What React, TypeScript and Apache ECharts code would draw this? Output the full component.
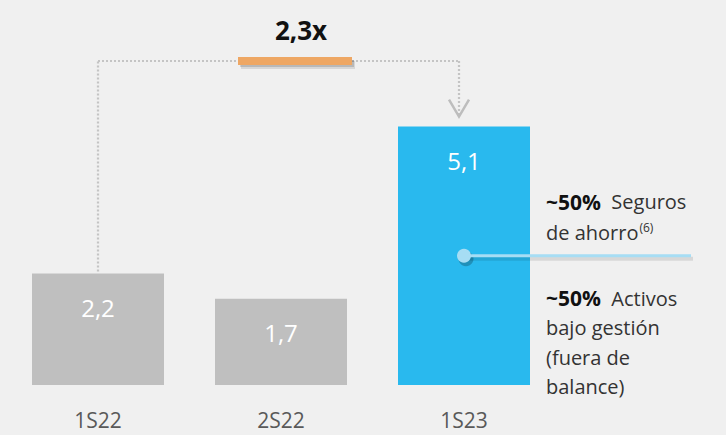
import React, { useEffect, useRef } from "react";
import * as echarts from "echarts";

const categories = ["1S22", "2S22", "1S23"];
const values = [2.2, 1.7, 5.1];
const valueLabels = ["2,2", "1,7", "5,1"];
const barColors = ["#bfbfbf", "#bfbfbf", "#29b9ee"];
const growthLabel = "2,3x";
const shareSavings = "~50%";
const shareAssets = "~50%";

const FONT = "'Open Sans', 'Noto Sans', sans-serif";

export default function App() {
  const ref = useRef<HTMLDivElement>(null);
  useEffect(() => {
    document.body.style.margin = "0";
    const chart = echarts.init(ref.current!, null, { renderer: "svg" });
    chart.setOption({
      animation: false,
      backgroundColor: "#f0f0f0",
      textStyle: { fontFamily: FONT },
      grid: { left: 6.5, right: 170.5, top: 81, bottom: 50 },
      xAxis: {
        type: "category",
        data: categories,
        axisLine: { show: false },
        axisTick: { show: false },
        axisLabel: { color: "#595959", fontSize: 21, margin: 24, fontFamily: FONT },
      },
      yAxis: { type: "value", min: 0, max: 6, show: false, splitLine: { show: false } },
      series: [
        {
          type: "bar",
          barWidth: 132,
          data: values.map((v, i) => ({ value: v, itemStyle: { color: barColors[i] } })),
          label: {
            show: true,
            position: "insideTop",
            distance: 22,
            color: "#ffffff",
            fontSize: 24,
            fontFamily: FONT,
            formatter: (p: any) => valueLabels[p.dataIndex],
          },
        },
      ],
    });

    const p1 = chart.convertToPixel({ seriesIndex: 0 }, [0, values[0]]) as number[];
    const p3 = chart.convertToPixel({ seriesIndex: 0 }, [2, values[2]]) as number[];
    const pm = chart.convertToPixel({ seriesIndex: 0 }, [2, values[2] / 2]) as number[];
    const lineY = 61;
    const dotted = { stroke: "#c4c4c4", lineWidth: 2.2, lineDash: [2, 2] };

    chart.setOption({
      graphic: [
        { type: "line", z: 10, shape: { x1: p1[0], y1: p1[1] - 2, x2: p1[0], y2: lineY }, style: dotted },
        { type: "line", z: 10, shape: { x1: p1[0], y1: lineY, x2: 238, y2: lineY }, style: dotted },
        { type: "line", z: 10, shape: { x1: 352, y1: lineY, x2: p3[0] - 5, y2: lineY }, style: dotted },
        { type: "line", z: 10, shape: { x1: p3[0] - 5, y1: lineY, x2: p3[0] - 5, y2: p3[1] - 12 }, style: dotted },
        {
          type: "polyline",
          z: 10,
          shape: { points: [[p3[0] - 15, p3[1] - 27], [p3[0] - 5, p3[1] - 10], [p3[0] + 5, p3[1] - 27]] },
          style: { stroke: "#bdbdbd", lineWidth: 2.5, fill: "none" },
        },
        // shadow of orange bar
        { type: "rect", z: 10, shape: { x: 241, y: 61, width: 114, height: 8 }, style: { fill: "rgba(0,0,0,0.10)" } },
        { type: "rect", z: 10, shape: { x: 240, y: 60, width: 114, height: 7 }, style: { fill: "rgba(0,0,0,0.14)" } },
        { type: "rect", z: 11, shape: { x: 238, y: 57, width: 114, height: 8 }, style: { fill: "#eea764" } },
        {
          type: "text",
          z: 10,
          x: 301,
          y: 30,
          style: {
            text: growthLabel,
            fill: "#111111",
            font: `bold 26px ${FONT}`,
            align: "center",
            verticalAlign: "middle",
          },
        },
        // shadow of callout line and dot
        { type: "line", z: 10, shape: { x1: pm[0] + 2, y1: pm[1] + 3, x2: 693, y2: pm[1] + 3 }, style: { stroke: "rgba(0,0,0,0.10)", lineWidth: 4 } },
        { type: "circle", z: 10, shape: { cx: pm[0] + 2, cy: pm[1] + 3, r: 7.5 }, style: { fill: "rgba(0,0,0,0.22)" } },
        {
          type: "line",
          z: 11,
          shape: { x1: pm[0], y1: pm[1], x2: 691, y2: pm[1] },
          style: { stroke: "#a6ddf4", lineWidth: 3 },
        },
        {
          type: "circle",
          z: 12,
          shape: { cx: pm[0], cy: pm[1], r: 7 },
          style: { fill: "#a6ddf4" },
        },
        {
          type: "text",
          z: 10,
          x: 546,
          y: 186,
          style: {
            text: `{b|${shareSavings}}{n|  Seguros}\n{n|de ahorro}{s|(6)}`,
            verticalAlign: "top",
            align: "left",
            rich: {
              b: { fontFamily: FONT, fontSize: 21, fontWeight: "bold", fill: "#111111", lineHeight: 31 },
              n: { fontFamily: FONT, fontSize: 20, fill: "#333333", lineHeight: 31 },
              s: { fontFamily: FONT, fontSize: 12, fill: "#333333", lineHeight: 31, verticalAlign: "top", padding: [4, 0, 0, 1] },
            },
          },
        },
        {
          type: "text",
          z: 10,
          x: 546,
          y: 283,
          style: {
            text: `{b|${shareAssets}}{n|  Activos}\n{n|bajo gestión}\n{n|(fuera de}\n{n|balance)}`,
            verticalAlign: "top",
            align: "left",
            rich: {
              b: { fontFamily: FONT, fontSize: 21, fontWeight: "bold", fill: "#111111", lineHeight: 30 },
              n: { fontFamily: FONT, fontSize: 20, fill: "#333333", lineHeight: 29.5 },
            },
          },
        },
      ],
    });

    return () => chart.dispose();
  }, []);
  return <div ref={ref} style={{ width: 726, height: 435 }} />;
}
